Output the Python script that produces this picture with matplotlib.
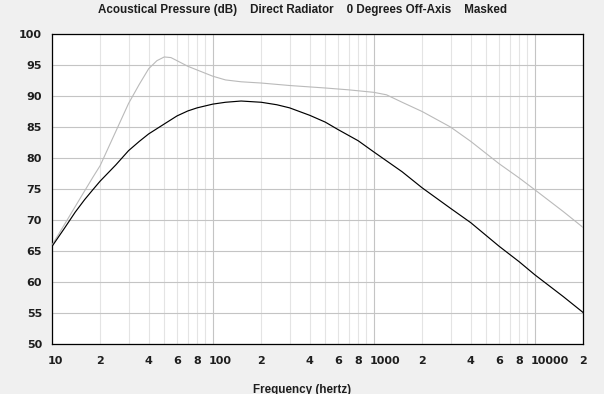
import matplotlib
matplotlib.use("Agg")
import matplotlib.pyplot as plt
from matplotlib.transforms import ScaledTranslation

# ---- data ----
freq_black = [10, 12, 14, 16, 18, 20, 25, 30, 35, 40, 50, 60, 70, 80, 100, 120, 150,
              200, 250, 300, 400, 500, 600, 800, 1000, 1500, 2000, 3000, 4000, 6000,
              8000, 10000, 15000, 20000]
spl_black = [65.7, 68.7, 71.3, 73.3, 74.9, 76.3, 78.9, 81.2, 82.7, 83.9, 85.5, 86.8, 87.6,
             88.1, 88.7, 89.0, 89.2, 89.0, 88.6, 88.1, 86.9, 85.8, 84.6, 82.8, 81.0, 77.8,
             75.2, 71.9, 69.6, 65.8, 63.3, 61.2, 57.7, 55.1]

freq_gray = [10, 12, 14, 16, 18, 20, 25, 30, 35, 40, 45, 50, 55, 60, 70, 80, 100, 120, 150,
             200, 300, 500, 700, 1000, 1200, 1500, 2000, 3000, 4000, 6000, 8000, 10000,
             15000, 20000]
spl_gray = [65.9, 69.3, 72.2, 74.7, 76.9, 78.8, 84.3, 88.8, 91.9, 94.4, 95.7, 96.3, 96.2,
            95.7, 94.8, 94.2, 93.2, 92.6, 92.3, 92.1, 91.7, 91.3, 91.0, 90.6, 90.2, 89.0,
            87.5, 85.0, 82.7, 79.1, 76.8, 74.9, 71.4, 68.8]

major_ticks = [10, 100, 1000, 10000]
major_labels = ["10", "100", "1000", "10000"]
minor_ticks = [20, 30, 40, 50, 60, 70, 80, 90,
               200, 300, 400, 500, 600, 700, 800, 900,
               2000, 3000, 4000, 5000, 6000, 7000, 8000, 9000, 20000]
minor_labels = ["2", "", "4", "", "6", "", "8", "",
                "2", "", "4", "", "6", "", "8", "",
                "2", "", "4", "", "6", "", "8", "", "2"]
y_ticks = [50, 55, 60, 65, 70, 75, 80, 85, 90, 95, 100]

title = "Acoustical Pressure (dB)    Direct Radiator    0 Degrees Off-Axis    Masked"
xlabel = "Frequency (hertz)"

# ---- figure ----
fig = plt.figure(figsize=(6.04, 3.94), dpi=100)
fig.patch.set_facecolor("#f0f0f0")
ax = fig.add_axes([51.7 / 604, 1 - 344.3 / 394, (583.3 - 51.7) / 604, (344.3 - 34) / 394])
ax.set_facecolor("white")
ax.set_xscale("log")
ax.set_xlim(10, 20000)
ax.set_ylim(50, 100)

ax.set_xticks(major_ticks, labels=major_labels)
ax.set_xticks(minor_ticks, labels=minor_labels, minor=True)
ax.set_yticks(y_ticks, labels=[str(v) for v in y_ticks])

ax.grid(which="major", axis="both", color="#c4c4c4", lw=0.8)
ax.grid(which="minor", axis="x", color="#e4e4e4", lw=0.8)
ax.set_axisbelow(True)

ax.plot(freq_gray, spl_gray, color="#bababa", lw=0.8, zorder=3)
ax.plot(freq_black, spl_black, color="black", lw=0.85, zorder=4)

for s in ax.spines.values():
    s.set_color("black")
    s.set_linewidth(0.9)

ax.tick_params(which="both", length=0, colors="#1e1e1e")
ax.tick_params(axis="x", which="both", pad=8.2)
ax.tick_params(axis="y", pad=7.0)
for lab in ax.get_xticklabels(which="both") + ax.get_yticklabels():
    lab.set_fontfamily("DejaVu Sans")
    lab.set_fontweight("bold")
    lab.set_fontsize(8)

off = ScaledTranslation(-4 / 100, 0, fig.dpi_scale_trans)
for t in ax.xaxis.get_major_ticks() + ax.xaxis.get_minor_ticks():
    t.label1.set_horizontalalignment("left")
    t.label1.set_transform(t.label1.get_transform() + off)

fig.text(0.5, 1 - 12.7 / 394, title, ha="center", va="baseline",
         fontfamily="Liberation Sans", fontweight="bold", fontsize=8.4, color="#1e1e1e")
fig.text(0.5, 1.5 / 394, xlabel, ha="center", va="baseline",
         fontfamily="Liberation Sans", fontweight="bold", fontsize=8.4, color="#1e1e1e")

fig.savefig("out.png", dpi=100, facecolor=fig.get_facecolor())
